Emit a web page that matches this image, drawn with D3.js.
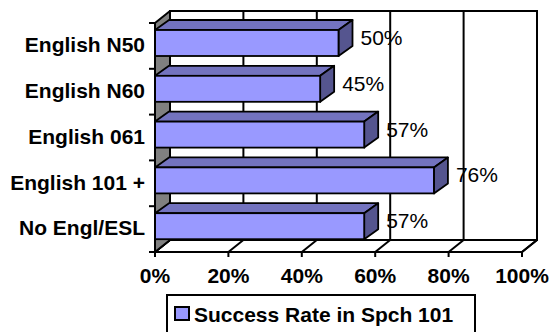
<!DOCTYPE html>
<html>
<head>
<meta charset="utf-8">
<script src="https://cdn.jsdelivr.net/npm/d3@7"></script>
<style>
  body { margin: 0; background: #fff; }
  svg { display: block; font-family: "Liberation Sans", Arial, sans-serif; }
</style>
</head>
<body>
<svg id="chart" width="552" height="332"></svg>
<script>
var categories = ["English N50", "English N60", "English 061", "English 101 +", "No Engl/ESL"];
var values = [0.50, 0.45, 0.57, 0.76, 0.57];
var tickValues = [0, 0.2, 0.4, 0.6, 0.8, 1.0];
var seriesName = "Success Rate in Spch 101";

(function () {
  var svg = d3.select("#chart");

  // front plane of the 3d box, and the depth offset to the back wall
  var x = d3.scaleLinear().domain([0, 1]).range([155, 522]);
  var y = d3.scaleBand().domain(categories).range([23, 252]);
  var DX = 15, DY = -12;
  var BX = 14, BY = -10; // bar depth
  var fmt = d3.format(".0%");
  var top = y.range()[0], bottom = y.range()[1];
  var left = x(0), right = x(1);

  function poly(pts) { return "M" + pts.map(function (p) { return p.join(","); }).join("L") + "Z"; }

  // back wall
  svg.append("rect")
    .attr("x", left + DX).attr("y", top + DY)
    .attr("width", right - left).attr("height", bottom - top)
    .attr("fill", "#fff").attr("stroke", "#000").attr("stroke-width", 2);

  // gridlines on back wall
  svg.selectAll(".grid").data(tickValues.slice(1, -1)).enter().append("line")
    .attr("x1", function (d) { return x(d) + DX; })
    .attr("x2", function (d) { return x(d) + DX; })
    .attr("y1", top + DY).attr("y2", bottom + DY)
    .attr("stroke", "#000").attr("stroke-width", 2);

  // floor
  svg.append("path")
    .attr("d", poly([[left, bottom], [right, bottom], [right + DX, bottom + DY], [left + DX, bottom + DY]]))
    .attr("fill", "#fff").attr("stroke", "#000").attr("stroke-width", 2)
    .attr("stroke-linejoin", "round");
  svg.selectAll(".floorline").data(tickValues).enter().append("line")
    .attr("x1", function (d) { return x(d); })
    .attr("x2", function (d) { return x(d) + DX; })
    .attr("y1", bottom).attr("y2", bottom + DY)
    .attr("stroke", "#000").attr("stroke-width", 2);

  // left side wall
  svg.append("path")
    .attr("d", poly([[left, bottom], [left, top], [left + DX, top + DY], [left + DX, bottom + DY]]))
    .attr("fill", "#808080").attr("stroke", "#000").attr("stroke-width", 2)
    .attr("stroke-linejoin", "round");

  // bars
  var bars = svg.selectAll(".bar").data(values).enter().append("g");
  function y0(i) { return y(categories[i]) + 7; }
  function y1(i) { return y(categories[i]) + 33; }

  bars.append("path")
    .attr("d", function (d, i) {
      return poly([[left, y0(i)], [x(d), y0(i)], [x(d) + BX, y0(i) + BY], [left + BX, y0(i) + BY]]);
    })
    .attr("fill", "#7373bf").attr("stroke", "#000").attr("stroke-width", 1.8).attr("stroke-linejoin", "round");
  bars.append("path")
    .attr("d", function (d, i) {
      return poly([[x(d), y0(i)], [x(d) + BX, y0(i) + BY], [x(d) + BX, y1(i) + BY], [x(d), y1(i)]]);
    })
    .attr("fill", "#55558f").attr("stroke", "#000").attr("stroke-width", 1.8).attr("stroke-linejoin", "round");
  bars.append("rect")
    .attr("x", left).attr("y", function (d, i) { return y0(i); })
    .attr("width", function (d) { return x(d) - left; })
    .attr("height", function (d, i) { return y1(i) - y0(i); })
    .attr("fill", "#9999ff").attr("stroke", "#000").attr("stroke-width", 1.8);

  // axes: category axis line + ticks
  svg.append("line")
    .attr("x1", left).attr("x2", left).attr("y1", top).attr("y2", bottom)
    .attr("stroke", "#000").attr("stroke-width", 2);
  var bounds = categories.map(function (c) { return y(c); }).concat([bottom]);
  svg.selectAll(".ctick").data(bounds).enter().append("line")
    .attr("x1", left - 6).attr("x2", left)
    .attr("y1", function (d) { return d; }).attr("y2", function (d) { return d; })
    .attr("stroke", "#000").attr("stroke-width", 2);
  svg.selectAll(".clabel").data(categories).enter().append("text")
    .attr("x", 145)
    .attr("y", function (d) { return y(d) + y.bandwidth() / 2; })
    .attr("dy", "0.3em")
    .attr("text-anchor", "end")
    .style("font-weight", "bold").style("font-size", "21px")
    .text(function (d) { return d; });

  // value axis ticks + labels
  svg.selectAll(".xtick").data(tickValues).enter().append("line")
    .attr("x1", function (d) { return x(d); }).attr("x2", function (d) { return x(d); })
    .attr("y1", bottom).attr("y2", bottom + 5)
    .attr("stroke", "#000").attr("stroke-width", 2);
  svg.selectAll(".xlabel").data(tickValues).enter().append("text")
    .attr("x", function (d) { return x(d); })
    .attr("y", 283)
    .attr("text-anchor", "middle")
    .style("font-weight", "bold").style("font-size", "21px")
    .text(function (d) { return fmt(d); });

  // data labels
  svg.selectAll(".vlabel").data(values).enter().append("text")
    .attr("x", function (d) { return x(d) + 22; })
    .attr("y", function (d, i) { return y(categories[i]) + 22; })
    .style("font-size", "21px")
    .text(function (d) { return fmt(d); });

  // legend
  var lg = svg.append("g");
  lg.append("rect")
    .attr("x", 167).attr("y", 295).attr("width", 308).attr("height", 45)
    .attr("fill", "#fff").attr("stroke", "#000").attr("stroke-width", 2);
  lg.append("rect")
    .attr("x", 175).attr("y", 307).attr("width", 14).attr("height", 13)
    .attr("fill", "#9999ff").attr("stroke", "#000").attr("stroke-width", 2);
  lg.append("text")
    .attr("x", 194).attr("y", 322)
    .style("font-weight", "bold").style("font-size", "21px")
    .text(seriesName);
})();
</script>
</body>
</html>
